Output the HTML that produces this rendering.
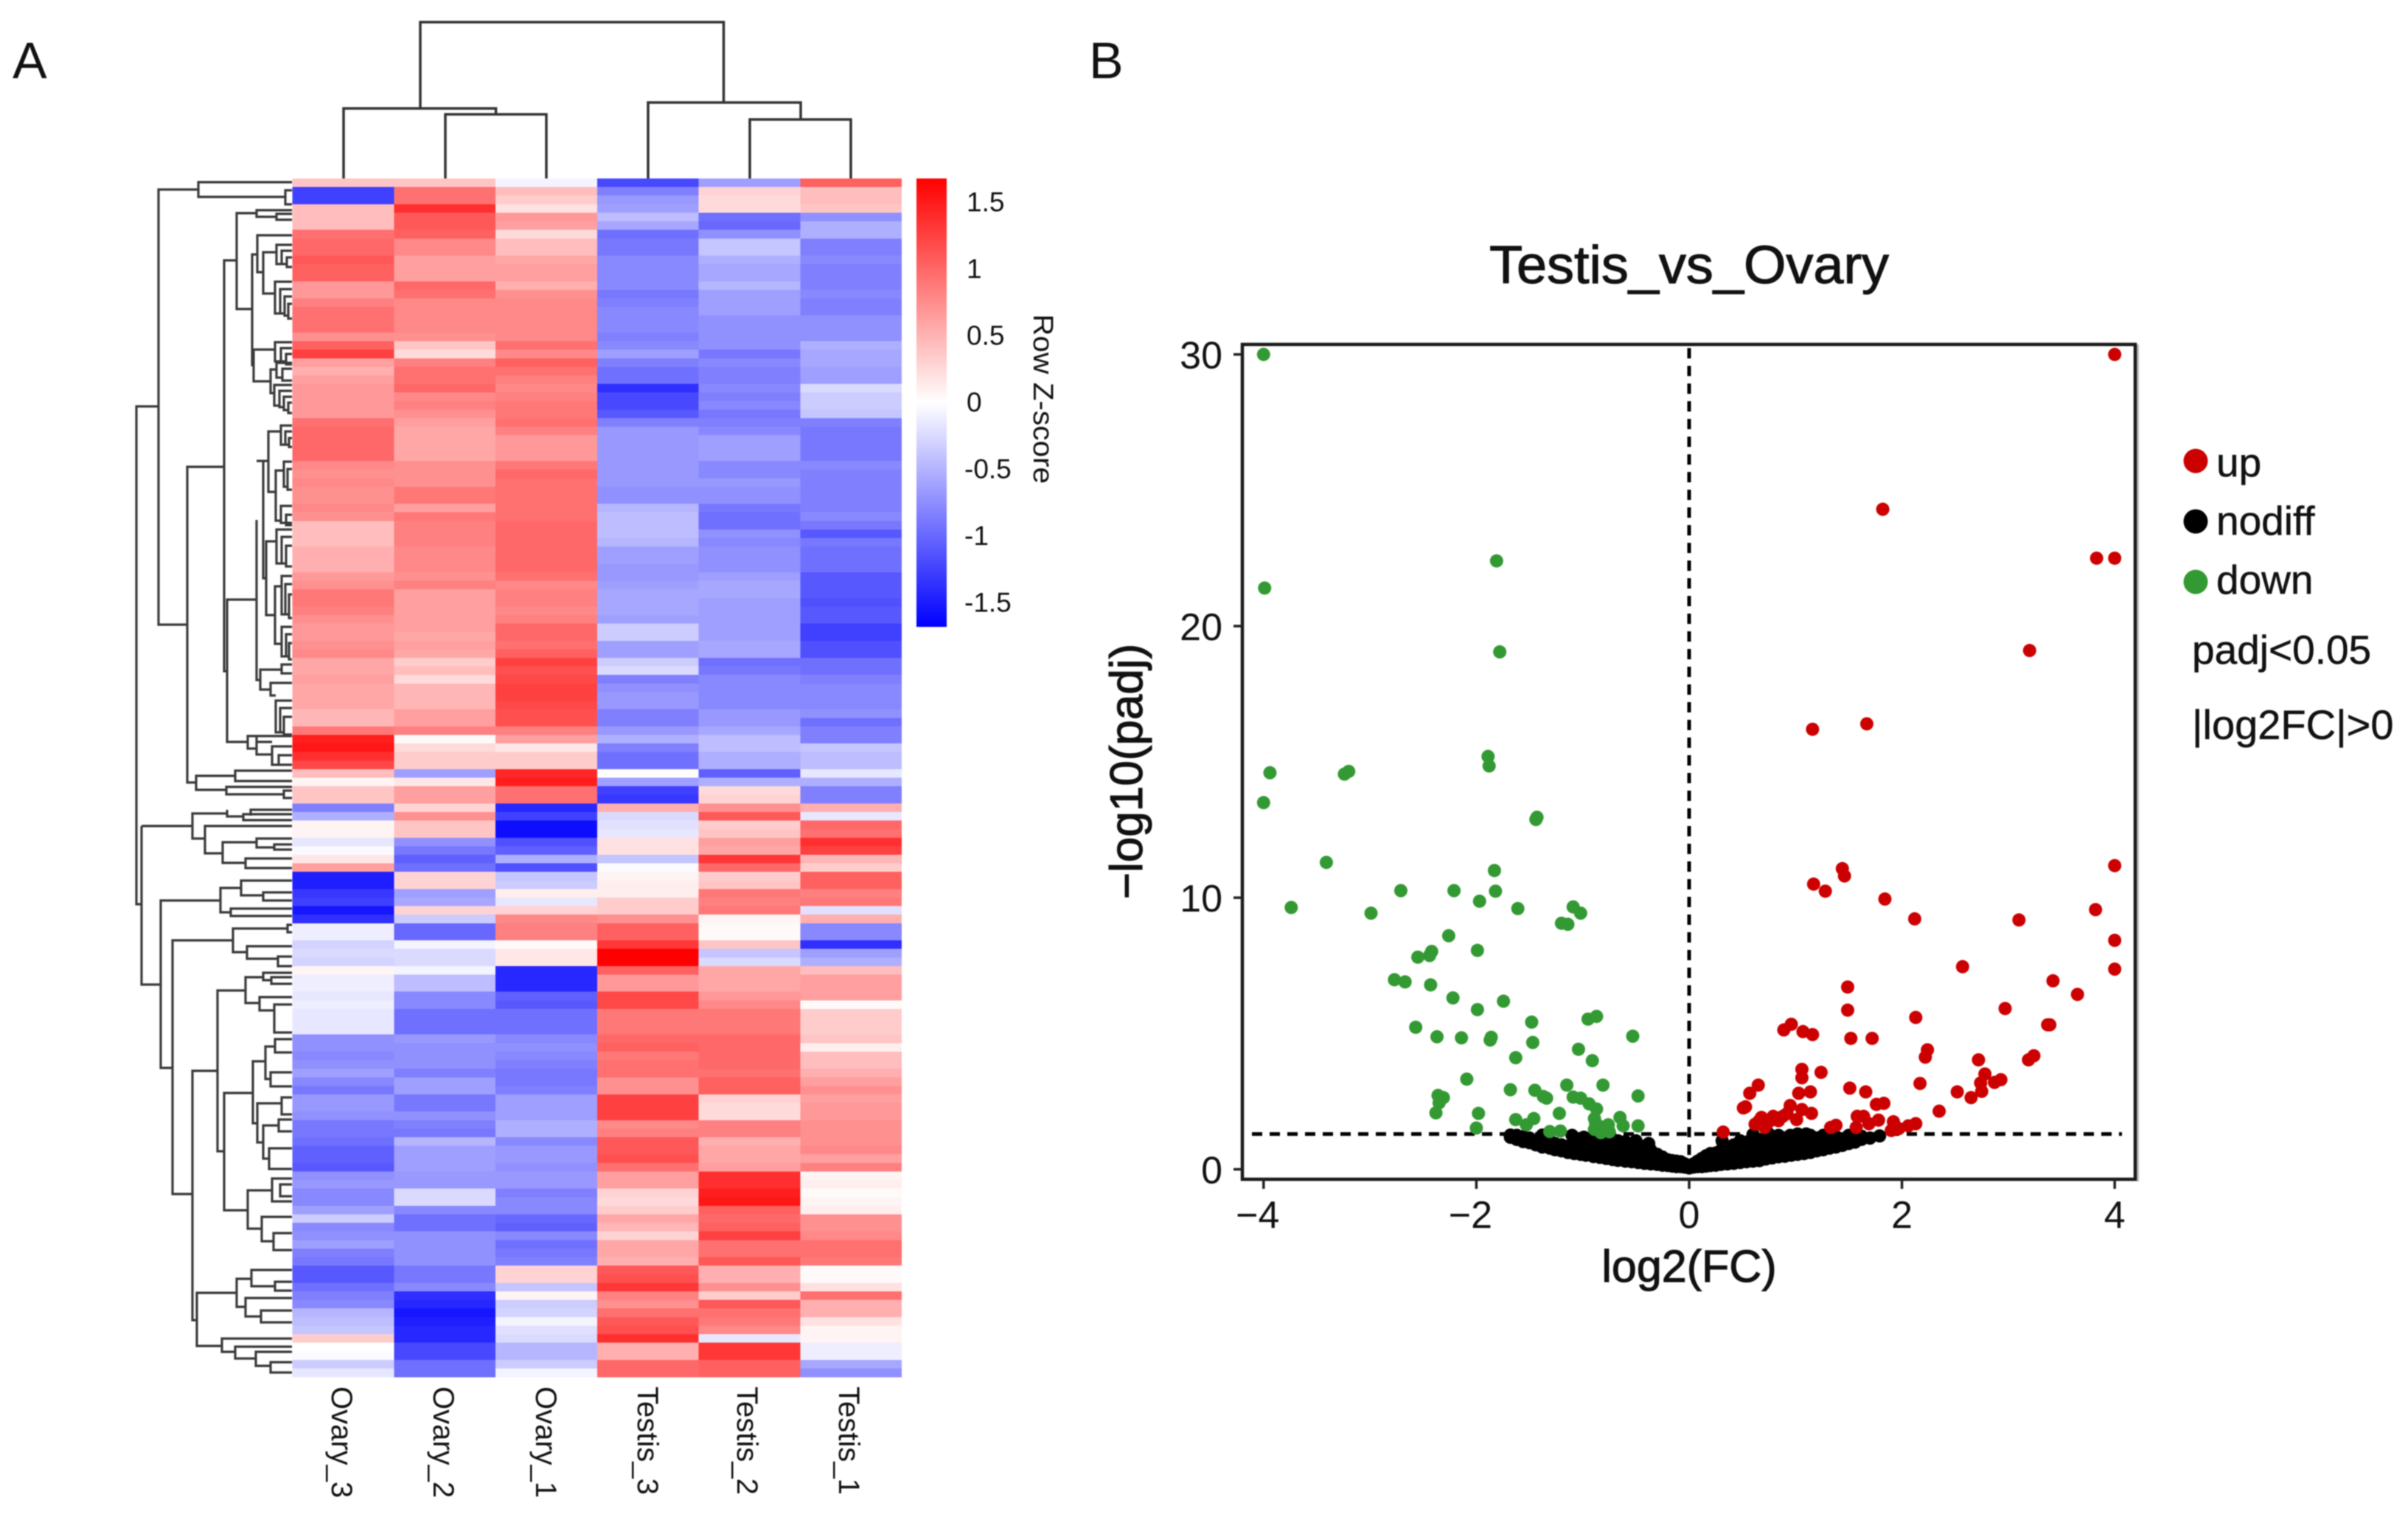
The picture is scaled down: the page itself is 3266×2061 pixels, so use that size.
<!DOCTYPE html>
<html lang="en">
<head>
<meta charset="utf-8">
<title>Testis vs Ovary heatmap and volcano plot</title>
<style>
html,body{margin:0;padding:0;background:#fff;}
#figure{display:block;width:3266px;height:2061px;filter:blur(0.9px);font-family:"Liberation Sans",Arial,sans-serif;}
text{font-family:"Liberation Sans",Arial,sans-serif;fill:#111;}
.heavy{stroke:#111;stroke-width:1.1px;}
.medium{stroke:#111;stroke-width:0.5px;}
</style>
</head>
<body>
<svg id="figure" xmlns="http://www.w3.org/2000/svg" width="3266" height="2061" viewBox="0 0 3266 2061">
  <defs>
    <linearGradient id="cbar" x1="0" y1="0" x2="0" y2="1">
      <stop offset="0" stop-color="#ff0000"/>
      <stop offset="0.5" stop-color="#ffffff"/>
      <stop offset="1" stop-color="#0000ff"/>
    </linearGradient>
  </defs>
  <rect width="3266" height="2061" fill="#fff"/>
  <text x="17" y="106" font-size="70">A</text>
  <text x="1477" y="106" font-size="70">B</text>

  <g id="heatmap"></g>

  <path fill="none" stroke="#333" stroke-width="3.5"
    d="M466 242V147H672.600V155M570 147V30H981.500V139M604 242V155H741V242M879 242V139H1086V162M1017 242V162H1154V242"/>

  <path fill="none" stroke="#3a3a3a" stroke-width="3.2"
    d="M215 551H185V1226H192
    M396 247H269V267H387M396 258H387V277H396M269 257H215V847H254
    M304 633H254V1061H266M319 1052H266V1071H307M396 1045H319V1059H396M396 1067H307V1077H385M396 1072H385V1082H396
    M321 353H304V910H308M348 813H308V1006H336
    M348 289H321V419H342M396 285H348V294H375M396 290H375V298H396
    M349 345H342V495H344M396 319H349V369H357M375 342H357V398H373
    M396 332H375V358H382M396 340H382V358H389M396 349H389V362H396
    M396 382H373V425H380M396 392H380V425H386M396 402H386V428H391M396 412H391V432H396
    M373 474H344V517H367M396 464H373V490H381M396 472H381V490H388M396 480H388V494H396
    M375 501H367V533H372M396 492H375V512H383M396 500H383V516H396
    M396 522H372V550H379M396 530H379V552H385M396 538H385V556H391M396 546H391V560H396
    M348 705V922H353M357 625H348M364 625H357V784H361M381 585H364V667H374
    M396 577H381V603H387M396 585H387V603H392M396 594H392V606H396
    M385 638H374V706H381M396 626H385V660H390M396 636H390V664H396M396 686H381V709H396M396 698H388V712H396
    M375 734H361V834H373M396 718H375V764H382M396 728H382V764H388M396 740H388V768H396
    M382 795H373V873H382M396 781H382V833H387M396 792H387V833H392M396 806H392V838H396
    M396 850H382V890H388M396 860H388V890H392M396 872H392V894H396
    M382 908H353V935H367M396 901H382V913H396M396 926H367V943H374M396 950H374V993H380M396 960H380V993H385M396 972H385V996H396
    M369 1006H348M348 998H336V1015H348M396 998H348V1023H369M396 1012H369V1037H378M396 1024H378V1037H396
    M192 1120H261V1103H308M261 1103V1137H278M396 1098H340V1106M308 1098V1107H330M396 1104H330V1112H396
    M396 1120H278V1157H302M348 1142H302V1170H333M396 1137H348V1149H372M396 1145H372V1152H396M396 1164H333V1177H396
    M192 1120V1335H218M299 1221H218V1448H234M327 1204H299V1237H313M396 1194H327V1214H357M396 1210H357V1221H396
    M396 1232H313V1242H396
    M316 1275H234V1619H261M390 1259H316V1291H335M396 1254H390V1264H396M396 1283H335V1300H377M396 1297H377V1310H396
    M295 1452H261V1790H267M333 1343H295V1561H304M357 1325H333V1360H352M396 1319H357V1329H368M396 1325H368V1334H396
    M396 1352H352V1370H372M396 1362H372V1400H396
    M343 1482H304V1641H336M360 1439H343V1523H349M373 1419H360V1463H367M396 1409H373V1427H396
    M396 1454H367V1473H396M382 1496H349V1549H357M396 1488H382V1511H396M378 1526H357V1571H365M396 1518H378V1534H396
    M396 1557H365V1585H396M369 1614H336V1666H355M396 1598H369V1629H396M396 1606H380V1622H396
    M396 1650H355V1683H371M396 1672H371V1695H396
    M321 1753H267V1825H301M341 1734H321V1772H333M396 1722H341V1744H373M396 1738H373V1750H396
    M396 1760H333V1785H354M396 1777H354V1793H396M396 1815H301V1833H319M396 1826H319V1842H347M396 1833H347V1852H367M396 1847H367V1861H396"/>

  <rect x="1243" y="242" width="41" height="608" fill="url(#cbar)"/>
  <g id="colorbar-labels"></g>
  <text transform="translate(1402,426) rotate(90)" font-size="38" textLength="230" lengthAdjust="spacingAndGlyphs">Row Z-score</text>

  <g id="volcano"></g>

  <text class="heavy" x="2291" y="384" font-size="72" text-anchor="middle" textLength="542" lengthAdjust="spacingAndGlyphs">Testis_vs_Ovary</text>
  <text class="heavy" x="2291" y="1738" font-size="61" text-anchor="middle">log2(FC)</text>
  <text class="heavy" transform="translate(1549,1046) rotate(-90)" font-size="62" text-anchor="middle">−log10(padj)</text>

  <g>
    <circle cx="2978" cy="625" r="16.500" fill="#cc0000"/>
    <text class="medium" x="3006" y="646" font-size="55">up</text>
    <circle cx="2978" cy="707" r="16.500" fill="#000"/>
    <text class="medium" x="3006" y="725" font-size="55">nodiff</text>
    <circle cx="2978" cy="789" r="16.500" fill="#339933"/>
    <text class="medium" x="3006" y="805" font-size="55">down</text>
    <text class="medium" x="2973" y="900" font-size="55">padj&lt;0.05</text>
    <text class="medium" x="2973" y="1002" font-size="56">|log2FC|&gt;0</text>
  </g>
</svg>

<script>
const sampleNames = ["Ovary_3","Ovary_2","Ovary_1","Testis_3","Testis_2","Testis_1"];
const colorbarTicks = [1.5,1,0.5,0,-0.5,-1,-1.5];
const colorbarTickLabels = ["1.5","1","0.5","0","-0.5","-1","-1.5"];
const heatValues = [
[.45,.45,-.1,-1.25,-.7,1.1],[-1.3,1.0,.5,-.9,.35,.5],[-1.3,1.0,.4,-.75,.3,.5],[.5,1.4,.25,-.7,.3,.45],
[.5,1.15,.75,-.5,-1.0,-.8],[.5,1.15,.7,-.65,-1.05,-.6],[1.0,1.1,.3,-1.0,-.8,-.6],[1.05,.85,.5,-.95,-.45,-.9],
[1.05,.85,.5,-.95,-.45,-.9],[1.15,.7,.65,-.85,-.6,-.85],[1.1,.7,.7,-.85,-.65,-.9],[1.1,.7,.7,-.85,-.65,-.9],
[.75,1.05,.6,-.85,-.55,-.9],[.75,1.0,.8,-.95,-.7,-.85],[.9,.85,.85,-.9,-.7,-.9],[1.0,.85,.85,-.85,-.7,-.9],
[1.0,.85,.85,-.85,-.8,-.8],[1.0,.85,.85,-.85,-.8,-.8],[.8,.8,.85,-.9,-.8,-.8],[1.1,.45,1.0,-.85,-.8,-.6],
[1.3,.3,.85,-.7,-.95,-.65],[.7,.9,1.1,-.9,-.85,-.65],[.6,1.0,1.0,-1.0,-.9,-.7],[.7,1.0,.9,-1.0,-.9,-.7],
[.75,1.05,.85,-1.4,-.85,-.3],[.75,.85,.9,-1.25,-.9,-.4],[.75,.9,.95,-1.25,-.85,-.4],[.75,.8,.95,-1.15,-.95,-.45],
[1.0,.7,1.0,-.9,-.9,-.9],[1.05,.65,.9,-.75,-.85,-.95],[1.05,.65,.75,-.75,-.7,-.95],[1.05,.65,.75,-.75,-.7,-.95],
[1.05,.65,.75,-.75,-.7,-.95],[.85,.8,.95,-.75,-.85,-.85],[.8,.8,1.05,-.75,-.85,-.9],[.85,.8,1.0,-.75,-.75,-.9],
[.8,.95,1.0,-.8,-.8,-.9],[.8,.95,1.0,-.8,-.8,-.9],[.85,.7,1.0,-.55,-.95,-.9],[.8,.95,1.0,-.5,-1.0,-.85],
[.5,.9,1.05,-.5,-1.0,-.95],[.5,.9,1.05,-.5,-.8,-1.15],[.5,.9,1.05,-.55,-.85,-.95],[.6,.85,1.05,-.7,-.8,-1.0],
[.6,.85,1.05,-.7,-.8,-1.0],[.6,.85,1.05,-.75,-.8,-1.0],[.75,.8,1.0,-.75,-.7,-1.15],[.8,.9,.85,-.7,-.65,-1.15],
[.95,.7,.9,-.65,-.65,-1.15],[.95,.7,.9,-.65,-.7,-1.2],[.9,.7,.85,-.65,-.7,-1.15],[.8,.7,.9,-.7,-.7,-1.15],
[.75,.7,1.05,-.4,-.7,-1.3],[.75,.65,1.05,-.4,-.7,-1.3],[.8,.7,1.0,-.7,-.65,-1.2],[.85,.65,1.1,-.7,-.65,-1.2],
[.65,.4,1.3,-.4,-1.0,-1.0],[.65,.5,1.2,-.3,-.95,-1.0],[.7,.3,1.25,-.9,-.85,-.9],[.65,.55,1.3,-.8,-.85,-.85],
[.65,.55,1.3,-.75,-.85,-.85],[.65,.55,1.25,-.75,-.85,-.85],[.55,.7,1.2,-.9,-.75,-.8],[.55,.7,1.2,-.9,-.75,-1.0],
[.95,.9,.9,-.75,-.65,-.9],[1.5,.05,.7,-.6,-.5,-.9],[1.55,.3,.2,-.9,-.5,-.45],[1.4,.4,.4,-1.0,-.6,-.5],
[1.25,.4,.4,-1.0,-.6,-.5],[.5,-.7,1.45,0,-1.1,-.2],[.1,.2,1.5,-.7,-.6,-.6],[.45,.7,1.0,-1.3,.3,-.9],
[.45,.7,1.0,-1.35,.35,-.9],[-.9,.35,-1.45,.6,.8,.6],[-.6,.8,-1.3,-.3,1.15,-.2],[.1,.45,-1.6,-.25,.4,1.05],
[.1,.45,-1.6,-.2,.45,1.0],[-.2,-.8,-1.2,.25,.7,1.4],[-.05,-.95,-1.1,.25,.65,1.3],[.2,-1.1,-.6,-.45,1.35,.55],
[.7,-1.0,-1.2,-.05,1.05,.4],[-1.5,.35,-.45,.1,.4,1.1],[-1.5,.35,-.4,.15,.45,1.1],[-1.35,-.7,.15,.15,.95,.9],
[-1.3,-.65,-.2,.4,.9,.95],[-1.55,.35,.35,.4,.95,-.25],[-1.4,-.4,.85,.8,.1,.6],[-.15,-1.05,.9,1.1,.05,-.85],
[-.15,-1.05,.9,1.1,.05,-.85],[-.35,-.1,.05,1.35,.45,-1.4],[-.3,-.3,.2,1.68,-.45,-.7],[-.35,-.3,.2,1.68,-.3,-.6],
[.1,-.1,-1.45,1.1,.65,.5],[-.15,-.5,-1.45,.75,.65,.7],[-.15,-.5,-1.45,.75,.65,.7],[-.2,-.85,-1.1,1.25,.75,.7],
[-.15,-.85,-1.15,1.25,.85,.05],[-.2,-1.0,-1.0,.95,.95,.4],[-.2,-1.0,-1.0,.95,.95,.4],[-.2,-1.0,-1.0,.95,.95,.4],
[-.8,-.75,-.85,1.05,1.05,.45],[-.8,-.8,-.8,1.1,1.05,.15],[-.85,-.8,-.85,.95,1.05,.5],[-.8,-.8,-.9,1.0,1.05,.5],
[-.7,-.9,-.95,1.0,1.0,.6],[-.85,-.7,-.95,.8,1.1,.7],[-.95,-.7,-.9,.8,1.1,.8],[-.75,-.95,-.7,1.3,.35,.7],
[-.75,-.95,-.7,1.3,.3,.75],[-.8,-.8,-.7,1.3,.3,.75],[-.95,-.9,-.6,.85,.9,.8],[-.95,-.95,-.6,.9,.9,.8],
[-1.0,-.55,-.85,1.15,.6,.8],[-1.1,-.7,-.75,1.15,.65,.85],[-1.1,-.7,-.75,1.2,.65,.7],[-1.15,-.7,-.8,1.0,.7,.9],
[-.8,-.75,-.75,.7,1.4,.1],[-.75,-.75,-.75,.7,1.4,.15],[-.85,-.3,-.9,.35,1.5,.05],[-.85,-.3,-.85,.3,1.55,.1],
[-.7,-.85,-.85,.4,1.1,.15],[-.4,-1.0,-1.05,.65,1.05,.8],[-.85,-1.0,-1.1,.55,1.1,.8],[-.8,-.8,-.85,.35,1.3,.85],
[-.7,-.8,-1.0,.65,1.0,1.0],[-.9,-.8,-.95,.65,1.0,1.0],[-.95,-.8,-.9,.6,1.15,.95],[-1.15,-.95,.35,1.15,.6,.05],
[-1.15,-.95,.35,1.2,.6,.05],[-1.0,-.85,-.45,1.35,.8,.25],[-.9,-1.4,.1,.9,.4,1.0],[-.85,-1.45,-.4,.8,1.15,.6],
[-.55,-1.55,-.35,1.0,1.0,.6],[-.5,-1.5,-.1,1.15,.95,.25],[-.45,-1.45,-.25,1.2,.85,.1],[.4,-1.45,-.3,1.4,-.2,.1],
[0,-1.25,-.55,.6,1.35,-.15],[-.05,-1.25,-.55,.6,1.35,-.15],[-.4,-1.0,-.4,1.05,1.1,-.65],[-.2,-1.0,-.1,1.05,1.1,-.8]
];

const xTickValues = [-4,-2,0,2,4];
const xTickLabels = ["−4","−2","0","2","4"];
const yTickValues = [0,10,20,30];
const yTickLabels = ["0","10","20","30"];
const padjThreshold = 1.3;
const fcThreshold = 0;

const nodiffPoints = [
[0,.05],[.04,.08],[.04,.2],[.08,.1],[.08,.3],[.12,.1],[.12,.25],[.12,.4],[.16,.12],[.16,.3],[.16,.5],[.2,.14],[.2,.35],[.2,.58],
[.25,.15],[.25,.4],[.25,.6],[.3,.18],[.3,.45],[.3,.7],[.31,1.05],[.36,.2],[.36,.45],[.36,.7],[.42,.22],[.42,.45],[.42,.7],[.42,.9],
[.48,.25],[.48,.5],[.48,.75],[.48,1.05],[.54,.28],[.54,.5],[.54,.75],[.54,1.0],[.6,.3],[.6,.55],[.6,.8],[.6,1.1],[.6,1.28],
[.66,.32],[.66,.6],[.66,.85],[.66,1.1],[.72,.38],[.72,.6],[.72,.85],[.72,1.15],[.75,1.3],[.78,.42],[.78,.65],[.78,.9],[.78,1.2],
[.84,.46],[.84,.7],[.84,.95],[.84,1.25],[.9,.48],[.9,.75],[.9,1.0],[.9,1.15],[.96,.52],[.96,.8],[.96,1.05],[.95,1.25],
[1.02,.55],[1.02,.8],[1.02,1.1],[1.02,1.3],[1.08,.58],[1.08,.85],[1.08,1.1],[1.1,1.3],[1.14,.62],[1.14,.9],[1.14,1.25],
[1.2,.68],[1.2,.95],[1.2,1.15],[1.26,.72],[1.26,1.0],[1.26,1.25],[1.32,.78],[1.32,1.0],[1.38,.82],[1.38,1.05],[1.38,1.2],
[1.44,.88],[1.44,1.1],[1.5,.95],[1.5,1.25],[1.56,1.0],[1.56,1.3],[1.62,1.1],[1.62,1.22],[1.7,1.15],[1.79,1.23],
[-.04,.08],[-.04,.2],[-.08,.1],[-.08,.28],[-.12,.1],[-.12,.3],[-.16,.12],[-.16,.32],[-.2,.14],[-.2,.35],[-.25,.15],[-.25,.35],[-.25,.45],
[-.3,.18],[-.3,.4],[-.3,.55],[-.36,.2],[-.36,.45],[-.36,.7],[-.38,.95],[-.42,.22],[-.42,.45],[-.42,.65],[-.42,.85],[-.48,.25],[-.48,.5],[-.48,.7],[-.5,1.05],
[-.54,.28],[-.54,.5],[-.54,.75],[-.54,.9],[-.6,.3],[-.6,.55],[-.6,.8],[-.6,1.02],[-.67,.33],[-.67,.6],[-.67,.85],[-.67,1.05],[-.72,.36],[-.72,.6],[-.72,.85],[-.75,1.12],
[-.78,.4],[-.78,.65],[-.78,.9],[-.84,.44],[-.84,.7],[-.84,.95],[-.9,.47],[-.9,.7],[-.9,.95],[-.9,1.2],[-.97,.52],[-.97,.75],[-.97,1.0],[-.99,1.18],
[-1.02,.55],[-1.02,.8],[-1.02,1.05],[-1.08,.58],[-1.08,.85],[-1.08,1.05],[-1.1,1.25],[-1.14,.62],[-1.14,.85],[-1.2,.68],[-1.2,.9],[-1.26,.72],[-1.26,.95],
[-1.31,.78],[-1.31,1.05],[-1.38,.82],[-1.38,1.12],[-1.38,1.26],[-1.44,.9],[-1.44,1.05],[-1.5,.98],[-1.5,1.15],[-1.56,1.02],[-1.56,1.2],[-1.62,1.1],[-1.62,1.25],[-1.68,1.18],[-1.68,1.26]
];

const upPoints = [
[4,30],[1.82,24.3],[3.83,22.5],[4,22.5],[3.2,19.1],[1.16,16.2],[1.67,16.4],[4,11.18],[1.44,11.07],[1.46,10.8],[1.17,10.5],[1.28,10.24],
[1.84,9.95],[2.12,9.22],[3.1,9.18],[3.82,9.56],[4,8.43],[4,7.37],[2.57,7.46],[1.49,6.71],[1.49,5.86],[3.42,6.94],[3.65,6.44],[2.97,5.92],
[3.39,5.32],[3.37,5.32],[2.13,5.59],[.96,5.34],[.89,5.13],[1.07,5.07],[1.16,4.96],[1.52,4.82],[1.72,4.82],[2.24,4.4],[2.22,4.13],[2.72,4.03],
[3.24,4.18],[3.19,4.03],[1.06,3.68],[1.06,3.37],[1.24,3.57],[2.78,3.51],[2.74,3.18],[2.75,2.87],[2.93,3.3],[2.87,3.2],[2.17,3.16],[.65,3.1],
[.57,2.8],[.51,2.26],[.53,2.3],[1.03,2.8],[1.14,2.85],[1.51,2.99],[1.66,2.85],[2.52,2.85],[2.65,2.64],[2.35,2.14],[1.83,2.43],[1.76,2.39],
[1.78,1.81],[.95,2.35],[1.06,2.2],[1.15,2.06],[1.01,1.83],[.32,1.37],[.62,1.66],[.68,1.91],[.71,1.54],[.79,1.95],[.88,1.95],[.84,1.79],
[.75,1.75],[.66,1.8],[.92,2.05],[1.33,1.54],[1.38,1.62],[1.57,1.54],[1.58,1.95],[1.64,1.95],[1.69,1.68],[1.92,1.75],[1.9,1.43],[1.97,1.5],
[2.06,1.6],[2.13,1.68]
];

const downPoints = [
[-4,30],[-3.99,21.4],[-3.94,14.6],[-4,13.5],[-3.2,14.65],[-3.24,14.55],[-3.41,11.3],[-3.74,9.64],[-2.99,9.43],[-2.71,10.26],[-2.21,10.26],
[-1.97,9.87],[-1.82,10.24],[-1.83,11],[-1.81,22.4],[-1.78,19.05],[-1.89,15.2],[-1.88,14.85],[-1.43,12.96],[-1.44,12.88],[-1.61,9.6],[-1.09,9.66],
[-1.02,9.43],[-1.2,9.06],[-1.14,9.02],[-2.26,8.6],[-1.99,8.06],[-2.42,8.02],[-2.44,7.87],[-2.55,7.81],[-2.77,6.98],[-2.67,6.9],[-2.43,6.79],
[-2.22,6.31],[-1.99,5.88],[-1.745,6.19],[-1.48,5.42],[-.87,5.63],[-.95,5.53],[-2.57,5.23],[-2.37,4.88],[-2.14,4.84],[-1.86,4.86],[-1.87,4.76],
[-1.47,4.67],[-.53,4.9],[-1.04,4.42],[-1.63,4.11],[-.91,4],[-2.09,3.32],[-1.68,2.93],[-1.45,2.91],[-1.15,3.1],[-.81,3.1],[-.48,2.7],[-2.36,2.72],
[-2.31,2.64],[-2.35,2.45],[-2.38,2.08],[-1.37,2.68],[-1.34,2.62],[-1.09,2.66],[-1.02,2.62],[-.94,2.41],[-.87,2.22],[-1.98,2.06],[-2,1.52],
[-1.63,1.83],[-1.46,1.87],[-1.53,1.64],[-1.22,2.06],[-1.31,1.39],[-1.21,1.41],[-.89,1.87],[-.89,1.47],[-.81,1.47],[-.76,1.64],[-.65,1.91],
[-.62,1.6],[-.48,1.6],[-.85,1.6],[-.75,1.38],[-.88,1.7],[-.83,1.35]
];

const SVG_NS = "http://www.w3.org/2000/svg";
function make(tag, attrs, parent) {
  const el = document.createElementNS(SVG_NS, tag);
  for (const key in attrs) el.setAttribute(key, attrs[key]);
  parent.appendChild(el);
  return el;
}

/* heatmap axes */
const heatLeft = 396.5, heatRight = 1223, heatTop = 242, heatBottom = 1867;
const colWidth = (heatRight - heatLeft) / sampleNames.length;
const rowHeight = (heatBottom - heatTop) / heatValues.length;
const zMax = 1.68;
function colX(i) { return heatLeft + i * colWidth; }
function rowY(i) { return heatTop + i * rowHeight; }
function heatColor(z) {
  const t = Math.pow(Math.min(1, Math.abs(z) / zMax), 1.12);
  const c = Math.round(255 * (1 - t));
  return z >= 0 ? "rgb(255," + c + "," + c + ")" : "rgb(" + c + "," + c + ",255)";
}
function colorbarY(z) { return 545 - z * 181; }

const heatGroup = document.getElementById("heatmap");
heatValues.forEach(function (row, r) {
  row.forEach(function (z, c) {
    const el = make("rect", {
      x: colX(c), y: rowY(r), width: colWidth, height: rowHeight + 0.6,
      fill: heatColor(z), "shape-rendering": "crispEdges"
    }, heatGroup);
    
    
  });
});
const sampleBaselines = [450, 588, 727, 865, 1000, 1138];
sampleNames.forEach(function (name, i) {
  const el = make("text", {
    transform: "translate(" + sampleBaselines[i] + ",1880) rotate(90)",
    "font-size": 40
  }, heatGroup);
  el.textContent = name;
  
  
});

const cbarGroup = document.getElementById("colorbar-labels");
colorbarTicks.forEach(function (z, i) {
  const el = make("text", { x: z < 0 ? 1308 : 1311, y: colorbarY(z) + 13, "font-size": 37 }, cbarGroup);
  el.textContent = colorbarTickLabels[i];
  
  
});

/* volcano axes */
const boxLeft = 1685, boxRight = 2896, boxTop = 467, boxBottom = 1599;
function sx(v) { return 2291 + v * 144.3; }
function sy(v) { return 1585.5 - v * 36.83; }

const vol = document.getElementById("volcano");

const hLine = make("line", {
  x1: 1698, x2: 2878, y1: sy(padjThreshold), y2: sy(padjThreshold),
  stroke: "#000", "stroke-width": 5, "stroke-dasharray": "14 10"
}, vol);



const vLine = make("line", {
  x1: sx(fcThreshold), x2: sx(fcThreshold), y1: 472, y2: 1585,
  stroke: "#000", "stroke-width": 5, "stroke-dasharray": "14 10"
}, vol);



nodiffPoints.forEach(function (p) {
  const el = make("circle", { cx: sx(p[0]), cy: sy(p[1]), r: 9, fill: "#000" }, vol);
  
  
});
upPoints.forEach(function (p) {
  const el = make("circle", { cx: sx(p[0]), cy: sy(p[1]), r: 9, fill: "#cc0000" }, vol);
  
  
});
downPoints.forEach(function (p) {
  const el = make("circle", { cx: sx(p[0]), cy: sy(p[1]), r: 9, fill: "#339933" }, vol);
  
  
});

const frameShadow = make("line", { x1: 2899.5, x2: 2899.5, y1: boxTop, y2: boxBottom + 3, stroke: "#bbb", "stroke-width": 3 }, vol);



const frame = make("rect", {
  x: boxLeft, y: boxTop, width: boxRight - boxLeft, height: boxBottom - boxTop,
  fill: "none", stroke: "#1a1a1a", "stroke-width": 4.5
}, vol);



xTickValues.forEach(function (v, i) {
  const tick = make("line", { x1: sx(v), x2: sx(v), y1: boxBottom, y2: 1612, stroke: "#222", "stroke-width": 3.5 }, vol);
  
  
  const label = make("text", { x: sx(v) - (v < 0 ? 8 : 0), y: 1665, "font-size": 52, "text-anchor": "middle" }, vol);
  label.textContent = xTickLabels[i];
  
  
});
yTickValues.forEach(function (v, i) {
  const tick = make("line", { x1: 1673, x2: boxLeft, y1: sy(v), y2: sy(v), stroke: "#222", "stroke-width": 3.5 }, vol);
  
  
  const label = make("text", { x: 1658, y: sy(v) + 19, "font-size": 52, "text-anchor": "end" }, vol);
  label.textContent = yTickLabels[i];
  
  
});
</script>
</body>
</html>
